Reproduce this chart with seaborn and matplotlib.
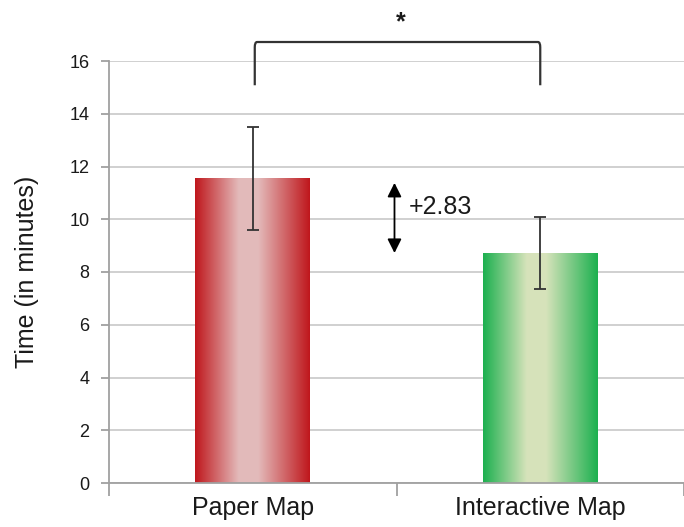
import numpy as np
import matplotlib
matplotlib.use("Agg")
import matplotlib.pyplot as plt
from matplotlib.colors import LinearSegmentedColormap
from matplotlib.path import Path
from matplotlib.patches import PathPatch
import seaborn as sns

# data
categories = ["Paper Map", "Interactive Map"]
means = [11.55, 8.72]
errors = [1.95, 1.35]
difference_label = "+2.83"
significance_label = "*"
y_ticks = [0, 2, 4, 6, 8, 10, 12, 14, 16]

sns.set_style("white")
plt.rcParams["font.family"] = ["Liberation Sans", "DejaVu Sans"]

fig = plt.figure(figsize=(6.84, 5.27), dpi=100)
ax = fig.add_axes([109 / 684, 1 - 483 / 527, 1 - 109 / 684, (483 - 61) / 527])

sns.barplot(x=categories, y=means, width=0.4, ax=ax, color="white")

# gradient fill for each bar, dark at the edges and pale in the middle
edge_light = [
    ((0.75, 0.09, 0.11), (0.89, 0.73, 0.73)),
    ((0.11, 0.69, 0.31), (0.84, 0.89, 0.73)),
]
for patch, (dark, light) in zip(ax.patches, edge_light):
    cmap = LinearSegmentedColormap.from_list(
        "grad", [(0.0, dark), (0.38, light), (0.55, light), (1.0, dark)])
    x0, y0 = patch.get_x(), patch.get_y()
    w, h = patch.get_width(), patch.get_height()
    grad = np.linspace(0, 1, 256).reshape(1, -1)
    im = ax.imshow(grad, cmap=cmap, aspect="auto", extent=[x0, x0 + w, y0, y0 + h],
                   zorder=2, interpolation="bilinear")
    im.set_clip_path(patch)
    patch.set_facecolor("none")
    patch.set_edgecolor("none")

xpos = np.arange(len(categories))
ax.errorbar(xpos, means, yerr=errors, fmt="none", ecolor="#333333",
            elinewidth=1.3, capsize=4.5, capthick=1.3, zorder=4)

ax.set_xlim(-0.5, 1.47)
ax.set_ylim(0, 16)
ax.set_yticks(y_ticks)
ax.set_xticks([-0.5, 0.5, 1.5], minor=False)
ax.set_xticklabels([])
ax.set_xticks(xpos, minor=True)
ax.set_xticklabels(categories, minor=True, fontsize=18, color="#1a1a1a")
ax.tick_params(axis="x", which="minor", bottom=True, length=0, pad=9)
ax.tick_params(axis="x", which="major", bottom=True, length=9, width=1.3,
               color="#a0a0a0", direction="out")
ax.tick_params(axis="y", left=True, length=6, width=1.3, color="#a0a0a0", direction="out",
               labelsize=13, pad=8, labelcolor="#1a1a1a")
ax.set_ylabel("Time (in minutes)", fontsize=18, color="#1a1a1a", labelpad=22)
ax.set_xlabel("")

ax.grid(axis="y", color="#c8c8c8", linewidth=1.2, zorder=0)
ax.set_axisbelow(True)
for side in ["top", "right"]:
    ax.spines[side].set_visible(False)
for side in ["left", "bottom"]:
    ax.spines[side].set_color("#a0a0a0")
    ax.spines[side].set_linewidth(1.3)

# significance bracket with small rounded corners
bx0, bx1 = xpos[0] + 0.007, xpos[1]
b_low, b_top = 15.08, 16.72
r_x, r_y = 0.008, 0.2
verts = [(bx0, b_low), (bx0, b_top - r_y), (bx0, b_top), (bx0 + r_x, b_top),
         (bx1 - r_x, b_top), (bx1, b_top), (bx1, b_top - r_y), (bx1, b_low)]
codes = [Path.MOVETO, Path.LINETO, Path.CURVE3, Path.CURVE3,
         Path.LINETO, Path.CURVE3, Path.CURVE3, Path.LINETO]
ax.add_patch(PathPatch(Path(verts, codes), facecolor="none", edgecolor="#333333",
                       linewidth=1.6, clip_on=False, zorder=5))
ax.text(0.514, 17.45, significance_label, ha="center", va="center",
        fontsize=18, fontweight="bold", color="#1a1a1a", clip_on=False)

# difference arrow
ax.annotate("", xy=(0.493, means[1]), xytext=(0.493, means[0] - 0.17),
            arrowprops=dict(arrowstyle="<|-|>,head_length=0.7,head_width=0.35",
                            color="black", lw=1.3,
                            mutation_scale=12, shrinkA=0, shrinkB=0))
ax.text(0.541, 10.46, difference_label, ha="left", va="center",
        fontsize=18, color="#1a1a1a")

fig.savefig("out.png", dpi=100)
